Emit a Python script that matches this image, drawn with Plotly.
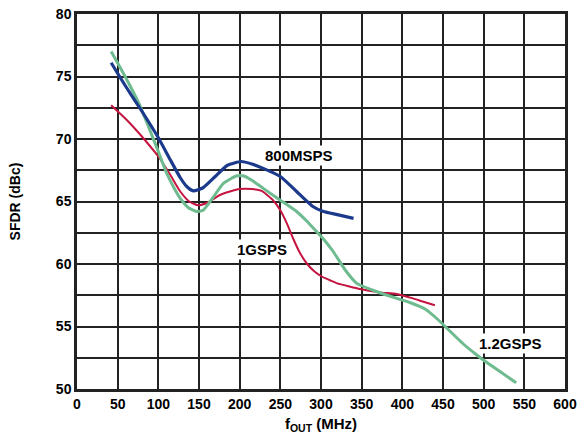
import plotly.graph_objects as go

# 800MSPS
x800 = [42, 60, 80, 100, 115, 127, 135, 143, 155, 170, 185, 202, 215, 229, 250, 270, 290, 303, 320, 340]
y800 = [76.1, 74.2, 72.2, 70.1, 68.3, 66.9, 66.2, 65.85, 66.1, 67.0, 67.9, 68.2, 68.0, 67.65, 67.0, 65.8, 64.6, 64.2, 63.95, 63.65]

# 1GSPS
x1g = [42, 60, 73, 85, 100, 115, 127, 138, 149, 160, 175, 188, 200, 215, 227, 241, 250, 258, 266, 274, 283, 292, 301, 311, 320, 335, 348, 372, 393, 413, 425, 440]
y1g = [72.7, 71.6, 70.7, 69.8, 68.6, 67.1, 65.8, 65.0, 64.7, 64.9, 65.5, 65.8, 66.0, 66.0, 65.85, 65.1, 64.3, 63.25, 62.0, 60.9, 60.0, 59.4, 59.0, 58.7, 58.45, 58.2, 58.0, 57.73, 57.6, 57.25, 57.0, 56.7]

# 1.2GSPS
x12g = [42, 60, 75, 86, 100, 110, 120, 127, 137, 147, 155, 167, 180, 196, 205, 215, 229, 250, 270, 283, 293, 303, 315, 330, 344, 368, 393, 410, 428, 443, 459, 475, 490, 500, 520, 540]
y12g = [77.0, 74.9, 73.0, 71.3, 69.0, 67.3, 66.0, 65.25, 64.5, 64.2, 64.3, 65.3, 66.45, 67.04, 67.04, 66.7, 66.05, 65.1, 64.2, 63.4, 62.7, 62.0, 61.0, 59.5, 58.45, 57.8, 57.25, 56.9, 56.4, 55.6, 54.6, 53.6, 52.8, 52.3, 51.4, 50.5]

label_text = ["800MSPS", "1GSPS", "1.2GSPS"]
label_x = [272.7, 227, 533.6]
label_y = [68.66, 61.2, 53.65]

x_ticks = list(range(0, 601, 50))
y_ticks = [50 + 2.5 * i for i in range(13)]
y_ticktext = [str(int(v)) if v % 5 == 0 else "" for v in y_ticks]

FONT = "Liberation Sans, Arial, sans-serif"

fig = go.Figure()
fig.add_trace(go.Scatter(x=x1g, y=y1g, mode="lines", line=dict(color="#c4143f", width=2, shape="spline", smoothing=0.5), name="1GSPS"))
fig.add_trace(go.Scatter(x=x12g, y=y12g, mode="lines", line=dict(color="#6dbb8e", width=3, shape="spline", smoothing=0.5), name="1.2GSPS"))
fig.add_trace(go.Scatter(x=x800, y=y800, mode="lines", line=dict(color="#1c3a8c", width=3.2, shape="spline", smoothing=0.5), name="800MSPS"))

for t, lx, ly in zip(label_text, label_x, label_y):
    fig.add_annotation(x=lx, y=ly, text="<b>%s</b>" % t, showarrow=False,
                       bgcolor="white", borderpad=1,
                       font=dict(family=FONT, size=15, color="black"))

fig.update_layout(
    width=580, height=440,
    margin=dict(l=77, r=15, t=14, b=51, autoexpand=False),
    paper_bgcolor="white", plot_bgcolor="white",
    showlegend=False,
    font=dict(family=FONT, size=14, color="black"),
)
fig.update_xaxes(
    range=[0, 600], tickvals=x_ticks, ticktext=["<b>%d</b>" % v for v in x_ticks],
    showgrid=True, gridcolor="#222222", gridwidth=1.5,
    showline=True, linecolor="#222222", linewidth=2.5, mirror=True,
    zeroline=False, ticks="", tickfont=dict(family=FONT, size=14), automargin=False,
    title=dict(text="<b>f<sub>OUT</sub> (MHz)</b>", font=dict(family=FONT, size=15), standoff=8),
)
fig.update_yaxes(
    range=[50, 80], tickvals=y_ticks, ticktext=["<b>%s</b>" % s if s else "" for s in y_ticktext],
    showgrid=True, gridcolor="#222222", gridwidth=1.5,
    showline=True, linecolor="#222222", linewidth=2.5, mirror=True,
    zeroline=False, ticks="", tickfont=dict(family=FONT, size=14), automargin=False,
    title=dict(text="<b>SFDR (dBc)</b>", font=dict(family=FONT, size=14), standoff=32),
)

fig.write_html("out.html", config={"displayModeBar": False},
               post_script="document.body.style.margin='0';document.body.style.overflow='hidden';")
